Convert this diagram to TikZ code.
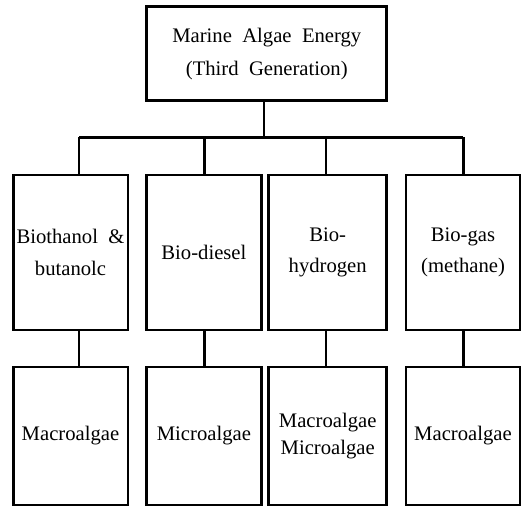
\documentclass[tikz,border=0pt]{standalone}
\usepackage{fontspec}
\setmainfont{Liberation Serif}
\begin{document}
\begin{tikzpicture}[x=0.75pt,y=-0.75pt,
  box/.style={draw=black,line width=2pt,fill=white,inner sep=0pt,align=center,font=\fontsize{15.5}{23.5}\selectfont},
  link/.style={draw=black,line width=2pt}]
\useasboundingbox[fill=white] (0,0) rectangle (525,506);
% top
\node[box,minimum width=180pt,minimum height=70.5pt] (top) at (266.8,53.7) {Marine\ \ Algae\ \ Energy\\[1pt](Third\ \ Generation)};
% middle row
\node[box,minimum width=86pt,minimum height=116pt] (m1) at (70.5,252.5) {Biothanol\ \ \&\\butanolc};
\node[box,minimum width=86pt,minimum height=116pt] (m2) at (203.9,252.5) {Bio-diesel};
\node[box,minimum width=88.5pt,minimum height=116pt] (m3) at (327.7,252.5) {Bio-\\hydrogen};
\node[box,minimum width=85.5pt,minimum height=116pt] (m4) at (463,252.5) {Bio-gas\\(methane)};
% bottom row
\node[box,minimum width=86pt,minimum height=103.5pt] (b1) at (70.5,436) {Macroalgae};
\node[box,minimum width=86pt,minimum height=103.5pt] (b2) at (203.9,436) {Microalgae};
\node[box,minimum width=88.5pt,minimum height=103.5pt,font=\fontsize{15.5}{20}\selectfont] (b3) at (327.7,436) {Macroalgae\\Microalgae};
\node[box,minimum width=85.5pt,minimum height=103.5pt] (b4) at (463,436) {Macroalgae};
% junction coordinates
\coordinate (jc) at (264,137.3);
\coordinate (j1) at (79,137.3);
\coordinate (j2) at (204.3,137.3);
\coordinate (j3) at (326,137.3);
\coordinate (j4) at (463.3,137.3);
\draw[link] (top.south -| jc) -- (jc);
\draw[link] (j1) -- (j4);
\draw[link] (j1) -- (j1 |- m1.north);
\draw[link] (j2) -- (j2 |- m2.north);
\draw[link] (j3) -- (j3 |- m3.north);
\draw[link] (j4) -- (j4 |- m4.north);
\draw[link] (j1 |- m1.south) -- (j1 |- b1.north);
\draw[link] (j2 |- m2.south) -- (j2 |- b2.north);
\draw[link] (j3 |- m3.south) -- (j3 |- b3.north);
\draw[link] (j4 |- m4.south) -- (j4 |- b4.north);
\end{tikzpicture}
\end{document}
